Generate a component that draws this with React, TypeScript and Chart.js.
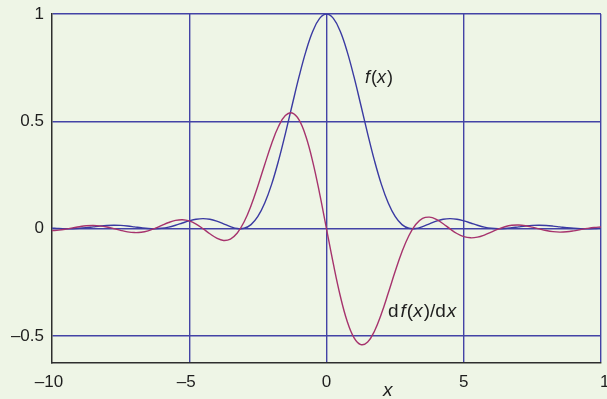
import React, { useEffect, useRef } from "react";
import { Chart, registerables } from "chart.js";

Chart.register(...registerables);

const xs = [
  -10, -9.75, -9.5, -9.25, -9, -8.75, -8.5, -8.25, -8, -7.75, -7.5, -7.25, -7, -6.75, -6.5, -6.25,
  -6, -5.75, -5.5, -5.25, -5, -4.75, -4.5, -4.25, -4, -3.75, -3.5, -3.25, -3, -2.75, -2.5, -2.25,
  -2, -1.75, -1.5, -1.25, -1, -0.75, -0.5, -0.25, 0, 0.25, 0.5, 0.75, 1, 1.25, 1.5, 1.75,
  2, 2.25, 2.5, 2.75, 3, 3.25, 3.5, 3.75, 4, 4.25, 4.5, 4.75, 5, 5.25, 5.5, 5.75,
  6, 6.25, 6.5, 6.75, 7, 7.25, 7.5, 7.75, 8, 8.25, 8.5, 8.75, 9, 9.25, 9.5, 9.75, 10,
];

const fVals = [
  0.00296, 0.00107, 0.00006, 0.00036, 0.0021, 0.00509, 0.00883, 0.01253, 0.01529, 0.01647,
  0.01564, 0.01289, 0.00881, 0.00445, 0.0011, 0.00003, 0.00217, 0.00781, 0.01646, 0.02677,
  0.03678, 0.04426, 0.04719, 0.04435, 0.0358, 0.02323, 0.01005, 0.00111, 0.00221, 0.01926,
  0.05731, 0.11958, 0.20671, 0.31616, 0.44222, 0.57637, 0.70807, 0.82601, 0.9194, 0.97934,
  1,
  0.97934, 0.9194, 0.82601, 0.70807, 0.57637, 0.44222, 0.31616, 0.20671, 0.11958, 0.05731,
  0.01926, 0.00221, 0.00111, 0.01005, 0.02323, 0.0358, 0.04435, 0.04719, 0.04426, 0.03678,
  0.02677, 0.01646, 0.00781, 0.00217, 0.00003, 0.0011, 0.00445, 0.00881, 0.01289, 0.01564,
  0.01647, 0.01529, 0.01253, 0.00883, 0.00509, 0.0021, 0.00036, 0.00006, 0.00107, 0.00296,
];

const dfVals = [
  -0.0085, -0.0061, -0.0016, 0.0041, 0.0097, 0.0139, 0.0154, 0.0135, 0.0083, 0.0008,
  -0.0074, -0.0142, -0.0177, -0.0163, -0.0096, 0.0017, 0.0156, 0.0292, 0.039, 0.0421,
  0.0365, 0.022, 0.0006, -0.0233, -0.0439, -0.0543, -0.0479, -0.0197, 0.0325, 0.1073,
  0.1993, 0.2994, 0.3959, 0.4759, 0.5269, 0.5392, 0.5068, 0.4294, 0.3117, 0.1639,
  0,
  -0.1639, -0.3117, -0.4294, -0.5068, -0.5392, -0.5269, -0.4759, -0.3959, -0.2994, -0.1993,
  -0.1073, -0.0325, 0.0197, 0.0479, 0.0543, 0.0439, 0.0233, -0.0006, -0.022, -0.0365,
  -0.0421, -0.039, -0.0292, -0.0156, -0.0017, 0.0096, 0.0163, 0.0177, 0.0142, 0.0074,
  -0.0008, -0.0083, -0.0135, -0.0154, -0.0139, -0.0097, -0.0041, 0.0016, 0.0061, 0.0085,
];

const xTicks = [-10, -5, 0, 5, 10];
const yTicks = [-0.5, 0, 0.5, 1];

const BG = "#eef5e6";
const GRID = "#4343a6";
const AXIS = "#2e2e2e";
const F_COLOR = "#3a3aa2";
const DF_COLOR = "#a6336d";
const TEXT = "#1e1e1e";
const FONT = "'Liberation Sans', Arial, sans-serif";

function fmt(v: number): string {
  const s = String(v);
  return v < 0 ? "\u2013" + s.slice(1) : s;
}

type Seg = [string, boolean, number];

function drawMixed(ctx: CanvasRenderingContext2D, segs: Seg[], x: number, y: number, size: number) {
  let cx = x;
  for (const [t, it, gap] of segs) {
    ctx.font = `${it ? "italic " : ""}${size}px ${FONT}`;
    ctx.fillText(t, cx, y);
    cx += ctx.measureText(t).width + gap;
  }
}

const labelPlugin = {
  id: "labels",
  beforeDraw(chart: any) {
    const ctx = chart.ctx;
    ctx.save();
    ctx.fillStyle = BG;
    ctx.fillRect(0, 0, chart.width, chart.height);
    ctx.restore();
  },
  afterDraw(chart: any) {
    const ctx = chart.ctx;
    const xs_ = chart.scales.x;
    ctx.save();
    ctx.fillStyle = TEXT;
    ctx.textBaseline = "alphabetic";
    // x tick labels
    ctx.font = `17px ${FONT}`;
    xTicks.forEach((v, i) => {
      const px = xs_.getPixelForValue(v);
      const last = i === xTicks.length - 1;
      ctx.textAlign = last ? "left" : "center";
      ctx.fillText(fmt(v), last ? px - 1 : px - (v < 0 ? 3 : 0), 387);
    });
    ctx.textAlign = "left";
    drawMixed(ctx, [["f", true, 1], ["(", false, 0], ["x", true, 1], [")", false, 0]], 365, 83, 18);
    drawMixed(
      ctx,
      [["d", false, 2], ["f", true, 1], ["(", false, 0], ["x", true, 1], [")/d", false, 1], ["x", true, 0]],
      388,
      317,
      19
    );
    drawMixed(ctx, [["x", true, 0]], 383, 396, 19);
    ctx.restore();
  },
};

export default function App() {
  const ref = useRef<HTMLCanvasElement | null>(null);

  useEffect(() => {
    document.body.style.margin = "0";
    document.body.style.background = BG;
    const canvas = ref.current;
    if (!canvas) return;
    const chart = new Chart(canvas, {
      type: "line",
      data: {
        datasets: [
          {
            label: "df(x)/dx",
            data: xs.map((x, i) => ({ x, y: dfVals[i] })),
            borderColor: DF_COLOR,
            borderWidth: 1.4,
            pointRadius: 0,
            tension: 0.4,
            fill: false,
          },
          {
            label: "f(x)",
            data: xs.map((x, i) => ({ x, y: fVals[i] })),
            borderColor: F_COLOR,
            borderWidth: 1.4,
            pointRadius: 0,
            tension: 0.4,
            fill: false,
          },
        ],
      },
      options: {
        animation: false,
        responsive: false,
        maintainAspectRatio: false,
        devicePixelRatio: 1,
        layout: { padding: { left: 0, top: 14, right: 6, bottom: 0 } },
        plugins: { legend: { display: false }, tooltip: { enabled: false } },
        scales: {
          x: {
            type: "linear",
            min: -10,
            max: 10,
            afterBuildTicks: (s: any) => {
              s.ticks = xTicks.map((v) => ({ value: v }));
            },
            afterFit: (s: any) => {
              s.height = 36;
              s.paddingLeft = 0;
              s.paddingRight = 0;
            },
            ticks: { display: false },
            grid: {
              drawTicks: false,
              lineWidth: 1.4,
              color: (c: any) => (c.tick && c.tick.value === -10 ? "rgba(0,0,0,0)" : GRID),
            },
            border: { display: true, color: AXIS, width: 1.5 },
          },
          y: {
            type: "linear",
            min: -0.625,
            max: 1,
            afterBuildTicks: (s: any) => {
              s.ticks = yTicks.map((v) => ({ value: v }));
            },
            afterFit: (s: any) => {
              s.width = 52;
              s.paddingTop = 0;
              s.paddingBottom = 0;
            },
            ticks: {
              color: TEXT,
              font: { family: FONT, size: 17 },
              padding: 8,
              callback: (v: any) => fmt(Number(v)),
            },
            grid: {
              drawTicks: false,
              lineWidth: 1.4,
              color: GRID,
            },
            border: { display: true, color: AXIS, width: 1.5 },
          },
        },
      },
      plugins: [labelPlugin],
    } as any);
    return () => chart.destroy();
  }, []);

  return (
    <div style={{ position: "fixed", left: 0, top: 0, width: 607, height: 399, background: BG }}>
      <canvas ref={ref} width={607} height={399} style={{ display: "block", width: 607, height: 399 }} />
    </div>
  );
}
